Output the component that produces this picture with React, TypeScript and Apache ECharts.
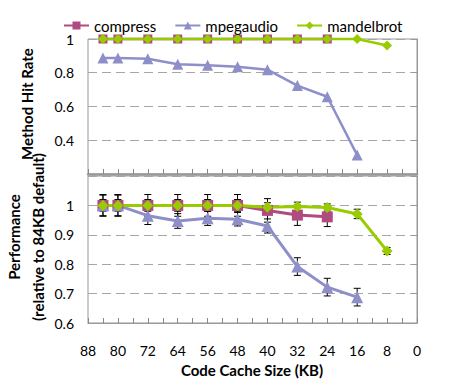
import React, { useEffect, useRef } from "react";
import * as echarts from "echarts";

const xSizes = [84, 80, 72, 64, 56, 48, 40, 32, 24, 16, 8];
const xTicks = [88, 80, 72, 64, 56, 48, 40, 32, 24, 16, 8, 0];
const hitTicks = [0.4, 0.6, 0.8, 1];
const perfTicks = [0.6, 0.7, 0.8, 0.9, 1];

const hitCompress = [1, 1, 1, 1, 1, 1, 1, 1, 1];
const hitMpeg = [0.887, 0.887, 0.883, 0.85, 0.845, 0.836, 0.818, 0.724, 0.658, 0.312];
const hitMandel = [1, 1, 1, 1, 1, 1, 1, 1, 1, 1, 0.962];

const perfCompress = [1, 1, 1, 1, 1, 1, 0.983, 0.967, 0.961];
const perfMpeg = [1, 1, 0.965, 0.947, 0.956, 0.953, 0.93, 0.792, 0.722, 0.688];
const perfMandel = [1, 1, 1, 1, 1, 1, 0.994, 0.996, 0.993, 0.971, 0.845];

const perfCompressErr = [0.037, 0.037, 0.037, 0.037, 0.037, 0.037, 0.04, 0.035, 0.033];
const perfMpegErr = [0.035, 0.035, 0.03, 0.025, 0.024, 0.023, 0.024, 0.03, 0.03, 0.03];
const perfMandelErr = [0.02, 0.02, 0.02, 0.02, 0.02, 0.02, 0.015, 0.015, 0.012, 0.016, 0.012];

const names = ["compress", "mpegaudio", "mandelbrot"];
const colors = ["#B04A7F", "#8E8FC9", "#99CC00"];

const FONT = "Lato";

const pair = (vals: number[]) => vals.map((v, i) => [xSizes[i], v]);
const triple = (vals: number[], errs: number[]) => vals.map((v, i) => [xSizes[i], v, errs[i]]);

export default function App() {
  const ref = useRef<HTMLDivElement>(null);
  useEffect(() => {
    const chart = echarts.init(ref.current!, undefined, { renderer: "svg" });
    const xAxisBase = (gridIndex: number, showLabels: boolean, lineWidth: number) => ({
      type: "value",
      gridIndex,
      min: 0,
      max: 88,
      interval: 8,
      inverse: true,
      axisLine: { show: true, lineStyle: { color: "#999", width: lineWidth } },
      axisTick: { show: true, inside: true, length: 5, lineStyle: { color: "#888" } },
      minorTick: { show: true, splitNumber: 2, length: 5, lineStyle: { color: "#888" } },
      splitLine: { show: false },
      axisLabel: {
        show: showLabels,
        margin: 20,
        fontFamily: FONT,
        fontSize: 14,
        color: "#000",
        customValues: xTicks,
      },
    });
    const yAxisBase = (gridIndex: number, min: number, max: number, interval: number, labels: number[]) => ({
      type: "value",
      gridIndex,
      min,
      max,
      interval,
      axisLine: { show: true, lineStyle: { color: "#999", width: 1 } },
      axisTick: { show: true, length: 5, lineStyle: { color: "#999" } },
      splitLine: { show: true, lineStyle: { color: "#A6A6A6", type: [9, 5], width: 1 } },
      axisLabel: {
        margin: 14,
        fontFamily: FONT,
        fontSize: 14,
        color: "#000",
        formatter: (v: number) => {
          const r = Math.round(v * 10) / 10;
          return labels.some((l) => Math.abs(l - r) < 1e-6) ? String(r) : "";
        },
      },
    });
    const symbols = ["rect", "triangle", "diamond"];
    const sizesTop = [9, 11, 10];
    const sizesBot = [11, 12, 11];
    const hitData = [hitCompress, hitMpeg, hitMandel];
    const perfData = [perfCompress, perfMpeg, perfMandel];
    const errData = [perfCompressErr, perfMpegErr, perfMandelErr];

    const lineSeries: any[] = [];
    names.forEach((n, i) => {
      lineSeries.push({
        name: n,
        type: "line",
        xAxisIndex: 0,
        yAxisIndex: 0,
        data: pair(hitData[i]),
        symbol: symbols[i],
        symbolSize: sizesTop[i],
        clip: false,
        z: 3,
        itemStyle: { color: colors[i] },
        lineStyle: { color: colors[i], width: 2.5 },
      });
    });
    names.forEach((n, i) => {
      lineSeries.push({
        name: "err-" + n,
        type: "custom",
        xAxisIndex: 1,
        yAxisIndex: 1,
        data: triple(perfData[i], errData[i]),
        z: 2,
        clip: false,
        renderItem: (params: any, api: any) => {
          const x = api.value(0);
          const y = api.value(1);
          const e = api.value(2);
          const top = api.coord([x, y + e]);
          const bot = api.coord([x, y - e]);
          const w = 3.5;
          const st = { stroke: "#000", lineWidth: 1 };
          return {
            type: "group",
            children: [
              { type: "line", shape: { x1: top[0], y1: top[1], x2: bot[0], y2: bot[1] }, style: st },
              { type: "line", shape: { x1: top[0] - w, y1: top[1], x2: top[0] + w, y2: top[1] }, style: st },
              { type: "line", shape: { x1: bot[0] - w, y1: bot[1], x2: bot[0] + w, y2: bot[1] }, style: st },
            ],
          };
        },
      });
    });
    names.forEach((n, i) => {
      lineSeries.push({
        name: n,
        type: "line",
        xAxisIndex: 1,
        yAxisIndex: 1,
        data: pair(perfData[i]),
        symbol: symbols[i],
        symbolSize: sizesBot[i],
        clip: false,
        z: 3,
        itemStyle: { color: colors[i] },
        lineStyle: { color: colors[i], width: 3 },
      });
    });

    chart.setOption({
      animation: false,
      backgroundColor: "#fff",
      textStyle: { fontFamily: FONT },
      legend: {
        data: names,
        left: 58,
        top: 13,
        itemWidth: 25,
        itemHeight: 10,
        itemGap: 18,
        textStyle: { fontFamily: FONT, fontSize: 15, color: "#000" },
      },
      grid: [
        { left: 88, top: 39, width: 329, height: 135, show: true, borderColor: "#999", borderWidth: 1 },
        { left: 88, top: 176, width: 329, height: 147, show: true, borderColor: "#999", borderWidth: 1 },
      ],
      xAxis: [xAxisBase(0, false, 2.5), xAxisBase(1, true, 1)],
      yAxis: [yAxisBase(0, 0.2, 1, 0.2, hitTicks), yAxisBase(1, 0.6, 1.1, 0.1, perfTicks)],
      series: lineSeries,
      graphic: [
        {
          type: "text",
          x: 27,
          y: 104,
          rotation: Math.PI / 2,
          style: {
            text: "Method Hit Rate",
            fontFamily: FONT,
            fontSize: 15,
            fontWeight: "bold",
            fill: "#000",
            align: "center",
            verticalAlign: "middle",
          },
        },
        {
          type: "text",
          x: 14,
          y: 237,
          rotation: Math.PI / 2,
          style: {
            text: "Performance",
            fontFamily: FONT,
            fontSize: 15,
            fontWeight: "bold",
            fill: "#000",
            align: "center",
            verticalAlign: "middle",
          },
        },
        {
          type: "text",
          x: 38,
          y: 237,
          rotation: Math.PI / 2,
          style: {
            text: "(relative to 84KB default)",
            fontFamily: FONT,
            fontSize: 15,
            fontWeight: "bold",
            fill: "#000",
            align: "center",
            verticalAlign: "middle",
          },
        },
        {
          type: "text",
          x: 252,
          y: 370,
          style: {
            text: "Code Cache Size (KB)",
            fontFamily: FONT,
            fontSize: 15,
            fontWeight: "bold",
            fill: "#000",
            align: "center",
            verticalAlign: "middle",
          },
        },
      ],
    });
    return () => chart.dispose();
  }, []);
  return (
    <div
      ref={ref}
      style={{ position: "fixed", left: 0, top: 0, width: 451, height: 381, background: "#fff" }}
    />
  );
}
